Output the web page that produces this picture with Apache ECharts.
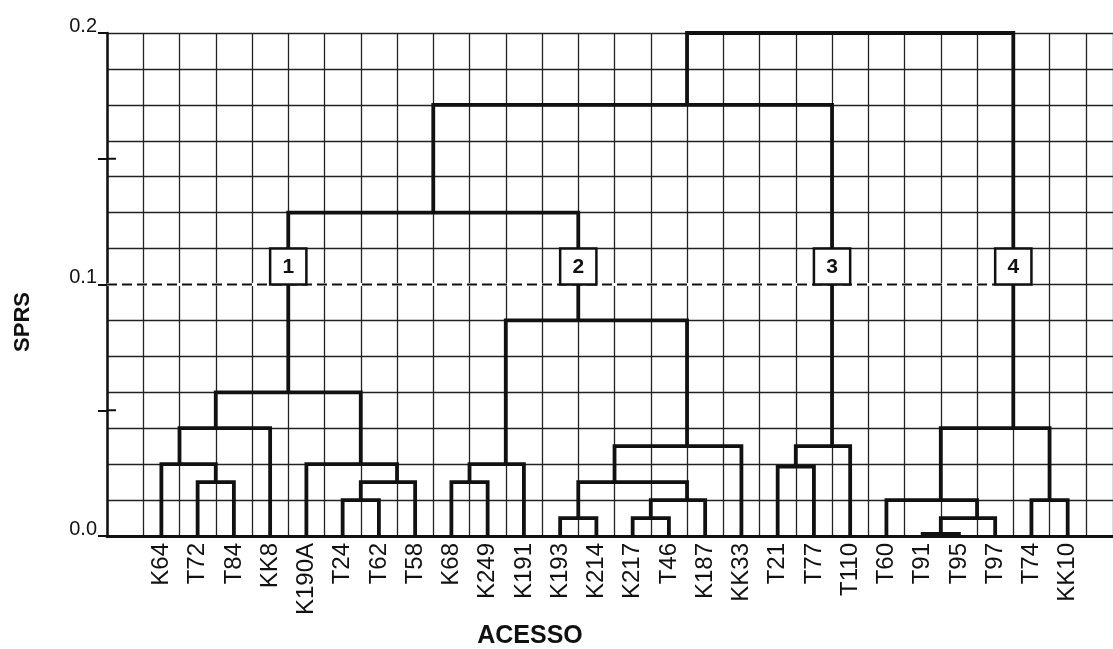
<!DOCTYPE html>
<html><head><meta charset="utf-8">
<script src="https://cdn.jsdelivr.net/npm/echarts@6/dist/echarts.min.js"></script>
<style>html,body{margin:0;padding:0;background:#fff}#c{width:1113px;height:649px}</style>
</head><body><div id="c"></div>
<script>
// Leaves (accessions), left to right
const leaves = ['K64','T72','T84','KK8','K190A','T24','T62','T58','K68','K249','K191',
  'K193','K214','K217','T46','K187','KK33','T21','T77','T110','T60','T91','T95','T97','T74','KK10'];
// Merges: node ids 0..25 are leaves, merge k creates node 26+k
const mergePairs = [
  [1,2],[0,26],[27,3],[5,6],[29,7],[4,30],[28,31],
  [8,9],[33,10],[11,12],[13,14],[36,15],[35,37],[38,16],[34,39],
  [32,40],[17,18],[42,19],[41,43],
  [21,22],[45,23],[20,46],[24,25],[47,48],[44,49]
];
// SPRS level of each merge
const mergeHeight = [
  0.0214,0.0286,0.0429,0.0143,0.0214,0.0286,0.0571,
  0.0214,0.0286,0.0071,0.0071,0.0143,0.0214,0.0357,0.0857,
  0.1286,0.0276,0.0357,0.1714,
  0.0008,0.0071,0.0143,0.0143,0.0429,0.2
];
// Horizontal place of each merge node in grid columns
const mergeColumn = [3,2,3,7,8,7,5, 10,11,13,15,16,14,16,13, 9,19,20,16, 23,24,23,26,25,20.5];
// Numbered clusters cut at SPRS = 0.1
const clusterLabels = ['1','2','3','4'];
const clusterNodes = [32,40,43,49];
const cutLevel = 0.1;
const yTickLabels = ['0.0','0.1','0.2'];
const yCrossTicks = [0.05, 0.15];

const NL = leaves.length;
const nodeX = id => id < NL ? id + 1.5 : mergeColumn[id - NL];
const nodeH = id => id < NL ? 0 : mergeHeight[id - NL];
const dendroData = mergePairs.map((p, k) => [nodeX(p[0]), nodeH(p[0]), nodeX(p[1]), nodeH(p[1]), mergeHeight[k]]);
const boxData = clusterNodes.map(n => [nodeX(n), cutLevel]);
const cutEnd = nodeX(clusterNodes[clusterNodes.length - 1]) - 0.5;

const FONT = '"Liberation Sans", Arial, sans-serif';
const INK = '#111';
const XMAX = 27.75;

const chart = echarts.init(document.getElementById('c'));
chart.setOption({
  animation: false,
  backgroundColor: '#fff',
  grid: { left: 107, right: 0, top: 33, bottom: 113, containLabel: false },
  xAxis: [
    { type: 'value', min: 0, max: XMAX, interval: 1, position: 'bottom',
      axisLine: { show: true, lineStyle: { color: INK, width: 3 } },
      axisTick: { show: false }, axisLabel: { show: false },
      splitLine: { show: true, lineStyle: { color: '#222', width: 1.3 } } },
    { type: 'value', min: 0, max: XMAX, interval: 0.5, position: 'bottom', offset: 0,
      axisLine: { show: false }, axisTick: { show: false }, splitLine: { show: false },
      axisLabel: { show: true, rotate: 90, margin: 7, color: INK, fontSize: 24, fontFamily: FONT,
        formatter: v => { const i = v - 1.5; return (Number.isInteger(i) && i >= 0 && i < NL) ? leaves[i] : ''; } } }
  ],
  yAxis: [
    { type: 'value', min: 0, max: 0.2, interval: 0.05, position: 'left', offset: 0,
      axisLine: { show: true, lineStyle: { color: INK, width: 2.5 } },
      axisTick: { show: true, length: 9, lineStyle: { color: INK, width: 2 } },
      splitLine: { show: false },
      axisLabel: { show: true, margin: 10, color: INK, fontSize: 20, fontFamily: FONT,
        verticalAlign: 'bottom', lineHeight: 14,
        formatter: v => { const t = v * 10; return Math.abs(t - Math.round(t)) < 1e-6 ? yTickLabels[Math.round(t)] : ''; } } },
    { type: 'value', min: 0, max: 14, interval: 1, position: 'right', offset: 0,
      axisLine: { show: false }, axisTick: { show: false }, axisLabel: { show: false },
      splitLine: { show: true, lineStyle: { color: '#222', width: 1.3 } } }
  ],
  series: [
    { type: 'custom', name: 'cut', xAxisIndex: 0, yAxisIndex: 0, clip: false, z: 3,
      data: [[0, cutLevel, cutEnd]],
      renderItem: (params, api) => {
        const a = api.coord([api.value(0), api.value(1)]);
        const b = api.coord([api.value(2), api.value(1)]);
        return { type: 'group', children: [
          { type: 'line', shape: { x1: a[0], y1: a[1], x2: b[0], y2: b[1] }, style: { stroke: '#fff', lineWidth: 3 } },
          { type: 'line', shape: { x1: a[0], y1: a[1], x2: b[0], y2: b[1] }, style: { stroke: INK, lineWidth: 2.2, lineDash: [10, 5] } }
        ] };
      } },
    { type: 'custom', name: 'crossTicks', xAxisIndex: 0, yAxisIndex: 0, clip: false, z: 3,
      data: yCrossTicks.map(v => [0, v]),
      renderItem: (params, api) => {
        const p = api.coord([api.value(0), api.value(1)]);
        return { type: 'line', shape: { x1: p[0], y1: p[1], x2: p[0] + 9, y2: p[1] }, style: { stroke: INK, lineWidth: 2 } };
      } },
    { type: 'custom', name: 'dendrogram', xAxisIndex: 0, yAxisIndex: 0, clip: false, z: 4,
      data: dendroData,
      renderItem: (params, api) => {
        const xa = api.value(0), ha = api.value(1), xb = api.value(2), hb = api.value(3), h = api.value(4);
        return { type: 'polyline',
          shape: { points: [api.coord([xa, ha]), api.coord([xa, h]), api.coord([xb, h]), api.coord([xb, hb])] },
          style: { stroke: INK, lineWidth: 3.8, fill: null, lineJoin: 'miter' } };
      } },
    { type: 'custom', name: 'clusters', xAxisIndex: 0, yAxisIndex: 0, clip: false, z: 5,
      data: boxData,
      renderItem: (params, api) => {
        const x = api.value(0), y = api.value(1);
        const p1 = api.coord([x - 0.5, y + 0.2 / 14]);
        const p2 = api.coord([x + 0.5, y]);
        return { type: 'group', children: [
          { type: 'rect', shape: { x: p1[0], y: p1[1], width: p2[0] - p1[0], height: p2[1] - p1[1] },
            style: { fill: '#fff', stroke: INK, lineWidth: 2.5 } },
          { type: 'text', style: { text: clusterLabels[params.dataIndex], x: (p1[0] + p2[0]) / 2, y: (p1[1] + p2[1]) / 2 + 1,
            align: 'center', verticalAlign: 'middle', fontSize: 21, fontWeight: 'bold', fontFamily: FONT, fill: INK } }
        ] };
      } }
  ],
  graphic: [
    { type: 'text', x: 23, y: 322, rotation: Math.PI / 2,
      style: { text: 'SPRS', font: 'bold 22px ' + FONT, textAlign: 'center', textVerticalAlign: 'middle', align: 'center', verticalAlign: 'middle', fill: INK } },
    { type: 'text', x: 530, y: 636,
      style: { text: 'ACESSO', font: 'bold 25px ' + FONT, textAlign: 'center', textVerticalAlign: 'middle', align: 'center', verticalAlign: 'middle', fill: INK } }
  ]
});
</script></body></html>
